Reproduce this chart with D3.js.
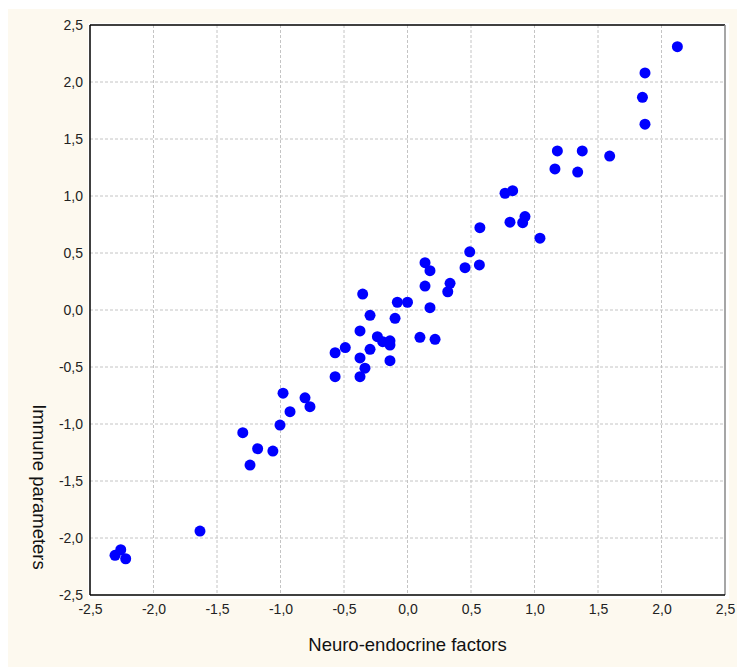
<!DOCTYPE html>
<html>
<head>
<meta charset="utf-8">
<script src="https://cdn.jsdelivr.net/npm/d3@7"></script>
<style>
body{margin:0;background:#fff;}
svg{display:block;font-family:"Liberation Sans",Arial,sans-serif;}
</style>
</head>
<body>
<svg id="screen" width="737" height="667"></svg>
<script>
// neuro-endocrine factors (x) and immune parameters (y)
var neuro=[2.125,1.87,1.85,1.87,1.18,1.376,1.592,1.161,1.34,0.768,0.828,0.807,0.907,0.925,1.043,0.57,
  0.49,0.453,0.566,0.138,0.177,0.335,0.317,0.138,0.177,0.0,-0.08,-0.098,0.098,0.217,-0.353,-0.295,
  -0.374,-0.237,-0.195,-0.138,-0.138,-0.295,-0.138,-0.374,-0.335,-0.374,-0.49,-0.57,-0.57,-0.98,
  -0.807,-0.768,-0.925,-1.004,-1.297,-1.18,-1.06,-1.24,-1.634,-2.303,-2.258,-2.219];
var immune=[2.31,2.08,1.866,1.63,1.395,1.395,1.35,1.237,1.21,1.024,1.047,0.77,0.766,0.82,0.63,0.722,
  0.51,0.371,0.395,0.415,0.345,0.234,0.16,0.21,0.02,0.068,0.068,-0.073,-0.24,-0.257,0.14,-0.047,
  -0.184,-0.234,-0.278,-0.27,-0.307,-0.345,-0.445,-0.42,-0.51,-0.585,-0.33,-0.375,-0.585,-0.73,
  -0.77,-0.848,-0.892,-1.009,-1.076,-1.217,-1.237,-1.36,-1.939,-2.152,-2.103,-2.182];
var ticks=[-2.5,-2.0,-1.5,-1.0,-0.5,0.0,0.5,1.0,1.5,2.0,2.5];

var data=[];
for(var i=0;i<neuro.length;i++){
    data.push([neuro[i],immune[i]]);
}

var svg=d3.select("#screen");
var pL=90,pR=725,pT=25,pB=595;

var x=d3.scaleLinear().domain([-2.5,2.5]).range([pL,pR]);
var y=d3.scaleLinear().domain([-2.5,2.5]).range([pB,pT]);
var fmt=function(d){ return d3.format(".1f")(d).replace(".",",").replace("\u2212","-"); };

// cream background and white plot area
svg.append("rect").attr("x",8).attr("y",9).attr("width",729).attr("height",658).attr("fill","#fdf9ef");
svg.append("rect").attr("x",pL-2).attr("y",pT-2).attr("width",pR-pL+6).attr("height",pB-pT+6).attr("fill","#fff");

// dashed grid
svg.append("g").selectAll("line").data(ticks.slice(1,-1)).enter().append("line")
    .attr("x1",function(d){return x(d);}).attr("x2",function(d){return x(d);})
    .attr("y1",pT).attr("y2",pB)
    .attr("stroke","#c4c4c4").attr("stroke-dasharray","3,2");
svg.append("g").selectAll("line").data(ticks.slice(1,-1)).enter().append("line")
    .attr("y1",function(d){return y(d);}).attr("y2",function(d){return y(d);})
    .attr("x1",pL).attr("x2",pR)
    .attr("stroke","#c4c4c4").attr("stroke-dasharray","3,2");

// axes
var xAxis=svg.append("g").attr("transform","translate(0,"+pB+")")
    .call(d3.axisBottom(x).tickValues(ticks).tickFormat(fmt).tickSize(0).tickPadding(9));
var yAxis=svg.append("g").attr("transform","translate("+pL+",0)")
    .call(d3.axisLeft(y).tickValues(ticks).tickFormat(fmt).tickSize(0).tickPadding(7));
[xAxis,yAxis].forEach(function(a){
    a.select(".domain").remove();
    a.selectAll("text").attr("font-size",14).attr("fill","#222").attr("font-family","Liberation Sans, Arial, sans-serif");
});

// frame
svg.append("line").attr("x1",pL).attr("x2",pR).attr("y1",pT).attr("y2",pT).attr("stroke","#000").attr("stroke-width",1.5);
svg.append("line").attr("x1",pR).attr("x2",pR).attr("y1",pT).attr("y2",pB).attr("stroke","#888").attr("stroke-width",1.5);
svg.append("line").attr("x1",pL).attr("x2",pL).attr("y1",pT).attr("y2",pB).attr("stroke","#000").attr("stroke-width",1.5);
svg.append("line").attr("x1",pL).attr("x2",pR).attr("y1",pB).attr("y2",pB).attr("stroke","#000").attr("stroke-width",1.5);

// points
svg.append("g").selectAll("circle").data(data).enter().append("circle")
    .attr("cx",function(d){return x(d[0]);})
    .attr("cy",function(d){return y(d[1]);})
    .attr("r",5.5).attr("fill","#0000ff");

// axis titles
svg.append("text").attr("x",(pL+pR)/2).attr("y",651).attr("text-anchor","middle")
    .attr("font-size",18.5).attr("fill","#111").text("Neuro-endocrine factors");
svg.append("text").attr("transform","translate(33,487) rotate(90)").attr("text-anchor","middle")
    .attr("font-size",18.5).attr("fill","#111").text("Immune parameters");
</script>
</body>
</html>
